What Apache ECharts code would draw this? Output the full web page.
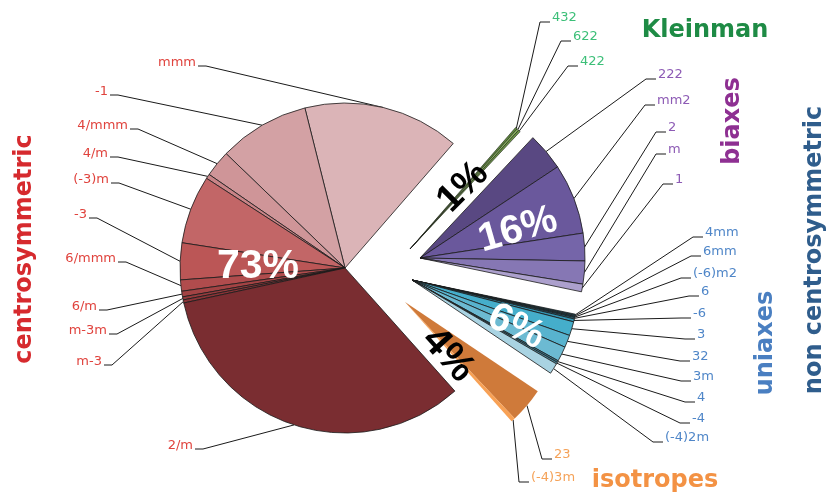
<!DOCTYPE html>
<html>
<head>
<meta charset="utf-8">
<script src="https://cdn.jsdelivr.net/npm/echarts@6/dist/echarts.min.js"></script>
<style>
  html, body { margin: 0; padding: 0; background: #ffffff; }
  #chart { width: 829px; height: 495px; }
</style>
</head>
<body>
<div id="chart"></div>
<script>
// Share of each point group (percent). Centrosymmetric groups are listed
// anticlockwise from the top; the other families clockwise from the top.
const centroLabels = ['mmm', '-1', '4/mmm', '4/m', '(-3)m', '-3', '6/mmm', '6/m', 'm-3m', 'm-3', '2/m'];
const centroValues = [15.3, 8.9, 2.6, 0.45, 6.7, 3.6, 1.1, 0.55, 0.3, 0.3, 33.2];

const isoLabels = ['23', '(-4)3m'];
const isoValues = [3.55, 0.43];

const uniaxLabels = ['4mm', '6mm', '(-6)m2', '6', '-6', '3', '32', '3m', '4', '-4', '(-4)2m'];
const uniaxValues = [0.11, 0.11, 0.11, 0.14, 0.28, 1.35, 1.2, 1.45, 0.17, 0.17, 1.05];

const biaxLabels = ['222', 'mm2', '2', 'm', '1'];
const biaxValues = [3.7, 6.9, 2.7, 2.25, 0.75];

const kleinLabels = ['432', '622', '422'];
const kleinValues = [0.2, 0.2, 0.2];

// Label anchors: [text edge x, text middle y]
const centroSpots = [[196, 63], [108, 92], [128, 126], [108, 154], [109, 180], [87, 215],
                     [116, 259], [97, 307], [107, 331], [102, 362], [193, 446]];
const isoSpots = [[554, 455], [531, 478]];
const uniaxSpots = [[705, 233], [703, 252], [693, 274], [701, 292], [693, 314], [697, 335],
                    [692, 357], [693, 377], [697, 398], [692, 419], [665, 438]];
const biaxSpots = [[658, 75], [657, 101], [668, 128], [668, 150], [675, 180]];
const kleinSpots = [[552, 18], [573, 37], [580, 62]];

const sum = a => a.reduce((s, v) => s + v, 0);
const total = sum(centroValues) + sum(isoValues) + sum(uniaxValues) + sum(biaxValues) + sum(kleinValues);
const pct = v => Math.round(v / total * 100) + '%';

// Families in anticlockwise order around the circle, starting at START_ANGLE
const START_ANGLE = 49;
const groups = [
  { labels: centroLabels, values: centroValues, spots: centroSpots, ccw: true, side: 'left',
    center: [345, 268], r: 165, labelColor: '#e0433d', border: 0.8,
    colors: ['#dbb4b7', '#d3a1a4', '#cf9598', '#c98487', '#c26667', '#bb5656', '#b04c4d', '#a34344', '#963b3d', '#8b3437', '#7a2d31'] },
  { labels: isoLabels, values: isoValues, spots: isoSpots, ccw: false, side: 'right',
    center: [405, 302], r: 160, labelColor: '#f5a258', border: 0,
    colors: ['#cf7a3a', '#f8a155'] },
  { labels: uniaxLabels, values: uniaxValues, spots: uniaxSpots, ccw: false, side: 'right',
    center: [412, 280], r: 167, labelColor: '#4f86c8', border: 0.8,
    colors: ['#1d5a6e', '#236a80', '#1d5a6e', '#2a7590', '#3495b3', '#45aecb', '#58b3ce', '#6cbad2', '#3f8096', '#4d90a6', '#a9d3e2'] },
  { labels: biaxLabels, values: biaxValues, spots: biaxSpots, ccw: false, side: 'right',
    center: [420, 258], r: 165, labelColor: '#8d5bb5', border: 0.8,
    colors: ['#594882', '#6a589c', '#7565a9', '#8677b4', '#aca0cd'] },
  { labels: kleinLabels, values: kleinValues, spots: kleinSpots, ccw: false, side: 'right',
    center: [410, 249], r: 161, labelColor: '#3cbf78', border: 0.6,
    colors: ['#5d8a3a', '#8db860', '#6e9a45'] }
];

let angle = START_ANGLE;
groups.forEach(g => {
  const span = sum(g.values) / total * 360;
  g.lo = angle;
  g.hi = angle + span;
  angle += span;
});

const series = groups.map(g => ({
  type: 'pie',
  silent: true,
  animation: false,
  z: 2,
  center: g.center,
  radius: [0, g.r],
  startAngle: g.ccw ? g.lo : g.hi,
  endAngle: g.ccw ? g.hi : g.lo,
  clockwise: !g.ccw,
  avoidLabelOverlap: false,
  minShowLabelAngle: 0,
  itemStyle: { borderColor: '#1a1a1a', borderWidth: g.border },
  label: {
    show: true, position: 'outside', formatter: '{b}',
    color: g.labelColor, fontFamily: 'DejaVu Sans', fontSize: 13
  },
  labelLine: { show: true, length: 10, length2: 10, smooth: false,
               lineStyle: { color: '#1a1a1a', width: 1 } },
  emphasis: { disabled: true },
  data: g.labels.map((n, i) => ({ name: n, value: g.values[i], itemStyle: { color: g.colors[i] } })),
  labelLayout: function (p) {
    const spot = g.spots[p.dataIndex];
    const left = g.side === 'left';
    const x = spot[0], y = spot[1];
    const ly = y + (left ? 3 : 4);
    const tx = left ? x + 2 : x - 2;
    const bx = left ? x + 10 : x - 12;
    const p0 = p.labelLinePoints ? p.labelLinePoints[0] : [tx, ly];
    return {
      x: x, y: y, align: left ? 'right' : 'left', verticalAlign: 'middle',
      labelLinePoints: [p0, [bx, ly], [tx, ly]]
    };
  }
}));

function txt(x, y, text, color, size, rot, family) {
  return {
    type: 'text', x: x, y: y, z: 100, rotation: (rot || 0) * Math.PI / 180, silent: true,
    style: {
      text: text, fill: color,
      fontFamily: family || 'DejaVu Sans', fontWeight: 'bold', fontSize: size,
      align: 'center', verticalAlign: 'middle',
      textAlign: 'center', textVerticalAlign: 'middle'
    }
  };
}

const PF = '"Liberation Sans", Arial, sans-serif';
const graphics = [
  // family shares
  txt(258, 267, pct(sum(centroValues)), '#ffffff', 41, 0, PF),
  txt(518, 230, pct(sum(biaxValues)), '#ffffff', 40, 16, PF),
  txt(516, 327, pct(sum(uniaxValues)), '#ffffff', 40, -25, PF),
  txt(448, 355, pct(sum(isoValues)), '#000000', 40, -48, PF),
  txt(463, 187, pct(sum(kleinValues)), '#000000', 38, 45, PF),
  // family titles
  txt(25, 249, 'centrosymmetric', '#d62a2e', 24, 90),
  txt(705, 31, 'Kleinman', '#1e8b45', 24, 0),
  txt(733, 121, 'biaxes', '#8e3092', 24, 90),
  txt(766, 343, 'uniaxes', '#4a7fc1', 24, 90),
  txt(815, 250, 'non centrosymmetric', '#2f5d8c', 24, 90),
  txt(655, 481, 'isotropes', '#f39244', 24, 0)
];

const chart = echarts.init(document.getElementById('chart'), null, { renderer: 'canvas' });
chart.setOption({
  backgroundColor: '#ffffff',
  animation: false,
  series: series,
  graphic: { elements: graphics }
});
</script>
</body>
</html>
